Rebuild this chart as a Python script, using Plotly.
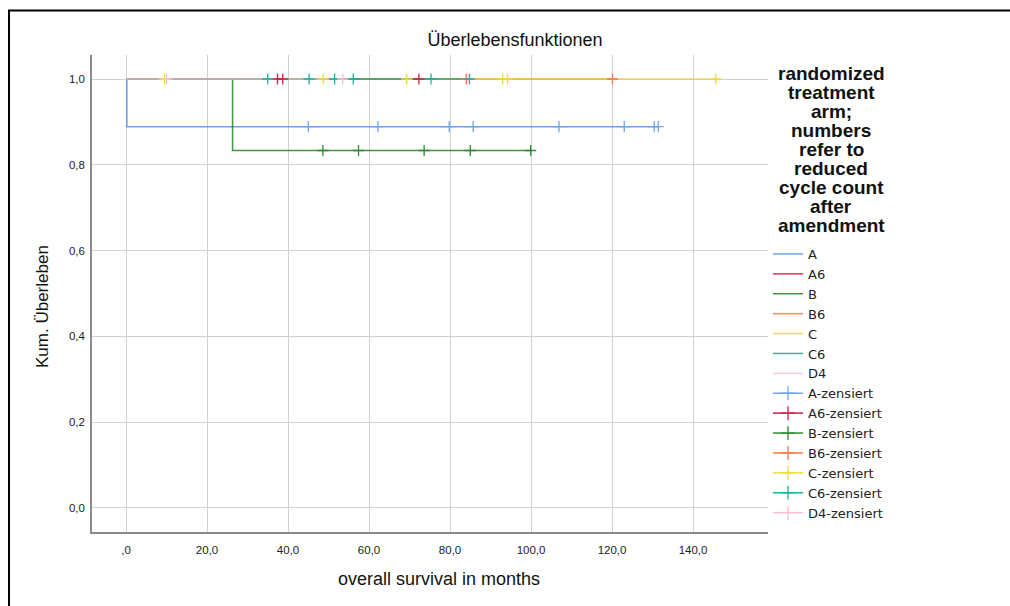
import plotly.graph_objects as go

# Treatment arms in legend order
arms = ["A", "A6", "B", "B6", "C", "C6", "D4"]

# Death times (months) per arm
A_events = [0.2]
A6_events = []
B_events = [26.3]
B6_events = []
C_events = []
C6_events = []
D4_events = []

# Censoring times (months) per arm
A_censored = [45.0, 62.2, 79.8, 85.7, 106.9, 123.0, 130.4, 131.4]
A6_censored = [37.4, 38.7, 72.3]
B_censored = [48.6, 57.4, 73.6, 85.0, 99.9]
B6_censored = [84.0, 120.1]
C_censored = [9.5, 48.7, 69.3, 93.0, 94.2, 145.6]
C6_censored = [35.0, 45.2, 51.5, 56.1, 75.3, 84.8]
D4_censored = [10.0, 53.5]

# Axis tick values and labels (German decimal comma)
x_ticks = [0, 20, 40, 60, 80, 100, 120, 140]
x_tick_labels = [",0", "20,0", "40,0", "60,0", "80,0", "100,0", "120,0", "140,0"]
y_ticks = [0.0, 0.2, 0.4, 0.6, 0.8, 1.0]
y_tick_labels = ["0,0", "0,2", "0,4", "0,6", "0,8", "1,0"]

legend_title_lines = ["randomized", "treatment", "arm;", "numbers", "refer to",
                      "reduced", "cycle count", "after", "amendment"]

events = {"A": A_events, "A6": A6_events, "B": B_events, "B6": B6_events,
          "C": C_events, "C6": C6_events, "D4": D4_events}
censored = {"A": A_censored, "A6": A6_censored, "B": B_censored, "B6": B6_censored,
            "C": C_censored, "C6": C6_censored, "D4": D4_censored}

# Step-line colours (semi-transparent so overlapping curves blend)
curve_colors = {
    "A": "rgba(72,137,227,0.8)",
    "A6": "rgba(211,0,36,0.8)",
    "B": "rgba(17,124,17,0.8)",
    "B6": "rgba(242,111,61,0.8)",
    "C": "rgba(230,211,49,0.8)",
    "C6": "rgba(0,161,130,0.8)",
    "D4": "rgba(249,186,211,0.8)",
}
# Censor-mark colours
mark_colors = {
    "A": "#6ea6ee", "A6": "#d41e45", "B": "#2e8b2e", "B6": "#f47a4a",
    "C": "#ecdc3a", "C6": "#1eb39a", "D4": "#f9bfd4",
}


def kaplan_meier(ev, cens):
    """Return step coordinates and a lookup of survival at each time."""
    times = sorted(set(ev) | set(cens))
    at_risk = len(ev) + len(cens)
    s = 1.0
    xs, ys = [0.0], [1.0]
    surv_at = {}
    for t in times:
        d = ev.count(t)
        c = cens.count(t)
        if d:
            s *= (at_risk - d) / at_risk
        xs.append(t)
        ys.append(s)
        surv_at[t] = s
        at_risk -= d + c
    return xs, ys, surv_at


fig = go.Figure()
lookups = {}

# Survival curves
for arm in arms:
    xs, ys, surv_at = kaplan_meier(events[arm], censored[arm])
    lookups[arm] = surv_at
    fig.add_trace(go.Scatter(
        x=xs, y=ys, mode="lines", name=arm,
        line=dict(color=curve_colors[arm], width=1.5, shape="hv"),
        hoverinfo="skip",
    ))

# Censor marks on the curves
for arm in arms:
    cx = censored[arm]
    cy = [lookups[arm][t] for t in cx]
    fig.add_trace(go.Scatter(
        x=cx, y=cy, mode="markers", showlegend=False,
        marker=dict(symbol="cross-thin", size=8,
                    line=dict(color=mark_colors[arm], width=1.3)),
        hoverinfo="skip",
    ))

# Legend entries for the censor marks
for arm in arms:
    fig.add_trace(go.Scatter(
        x=[None], y=[None], mode="lines+markers", name=f"{arm}-zensiert",
        line=dict(color=mark_colors[arm], width=1.5),
        marker=dict(symbol="cross-thin", size=10,
                    line=dict(color=mark_colors[arm], width=1.3)),
    ))

W, H = 1010, 606
L, R, T, B = 92, 242, 55, 74
pw, ph = W - L - R, H - T - B


def px_x(x):
    return (x - L) / pw


def px_y(y):
    return (H - B - y) / ph


annotations = [
    dict(text="Kum. Überleben", x=px_x(42), y=px_y(307), xref="paper", yref="paper",
         textangle=-90, showarrow=False, xanchor="center", yanchor="middle",
         font=dict(family="Liberation Sans", size=17, color="#111")),
    dict(text="overall survival in months", x=px_x(439), y=px_y(579),
         xref="paper", yref="paper", showarrow=False,
         xanchor="center", yanchor="middle",
         font=dict(family="Liberation Sans", size=18, color="#111")),
]
for i, line in enumerate(legend_title_lines):
    annotations.append(dict(
        text=f"<b>{line}</b>", x=px_x(831), y=px_y(73 + 19.1 * i),
        xref="paper", yref="paper", showarrow=False,
        xanchor="center", yanchor="middle",
        font=dict(family="Liberation Sans", size=19, color="#111"),
    ))

fig.update_layout(
    width=W, height=H,
    margin=dict(l=L, r=R, t=T, b=B),
    paper_bgcolor="white", plot_bgcolor="white",
    title=dict(text="Überlebensfunktionen", x=515 / W, y=1 - 40 / H,
               xref="container", yref="container",
               xanchor="center", yanchor="middle",
               font=dict(family="Liberation Sans", size=18, color="#111")),
    xaxis=dict(range=[-8.4, 158.5], tickvals=x_ticks, ticktext=x_tick_labels,
               showgrid=True, gridcolor="#d2d2d2", gridwidth=1,
               showline=True, linecolor="#8a8a8a", linewidth=1.5,
               zeroline=False, ticks="", ticklabelstandoff=6,
               tickfont=dict(family="Liberation Sans", size=11.5, color="#222")),
    yaxis=dict(range=[-0.056, 1.056], tickvals=y_ticks, ticktext=y_tick_labels,
               showgrid=True, gridcolor="#d2d2d2", gridwidth=1,
               showline=True, linecolor="#8a8a8a", linewidth=1.5,
               zeroline=False, ticks="", ticklabelstandoff=3,
               tickfont=dict(family="Liberation Sans", size=11.5, color="#222")),
    legend=dict(x=1.0, xanchor="left", y=px_y(239), yanchor="top",
                font=dict(family="DejaVu Sans", size=13, color="#222"),
                bgcolor="rgba(0,0,0,0)", itemwidth=30, traceorder="normal"),
    annotations=annotations,
    shapes=[dict(type="rect", xref="paper", yref="paper",
                 x0=px_x(9), x1=px_x(1030), y0=px_y(630), y1=px_y(10.5),
                 line=dict(color="black", width=2), fillcolor="rgba(0,0,0,0)")],
)

fig.write_html("out.html")
